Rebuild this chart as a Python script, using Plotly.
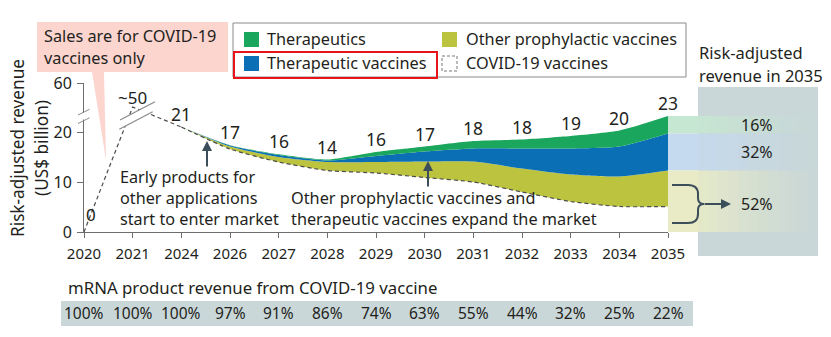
import numpy as np
import plotly.graph_objects as go

# ---------------- data ----------------
years = ["2020", "2021", "2024", "2026", "2027", "2028", "2029",
         "2030", "2031", "2032", "2033", "2034", "2035"]
total_labels = ["0", "~50", "21", "17", "16", "14", "16", "17", "18", "18", "19", "20", "23"]
covid = [0, 50, 21, 16.6, 14.0, 12.3, 11.8, 10.9, 10.0, 8.0, 6.1, 5.1, 5.1]
other_proph = [0, 0, 0, 0.5, 1.0, 1.7, 2.2, 3.2, 4.1, 4.7, 5.4, 6.0, 7.2]
ther_vacc = [0, 0, 0, 0.2, 0.4, 0.3, 1.2, 2.0, 2.6, 4.0, 5.2, 6.0, 7.4]
therapeutics = [0, 0, 0, 0.05, 0.15, 0.2, 0.8, 1.0, 1.5, 1.8, 2.5, 3.2, 3.5]
covid_share = ["100%", "100%", "100%", "97%", "91%", "86%", "74%",
               "63%", "55%", "44%", "32%", "25%", "22%"]
share_2035 = ["16%", "32%", "52%"]
y_tick_values = [0, 10, 20, 60]

# ---------------- styling ----------------
FONT = "Noto Sans"
TXT = "#231f20"
AX = "#6d6e71"
ARROW = "#3c4e5a"
GREEN = "#1aa65c"
BLUE = "#0a6fb5"
YELLOW = "#bcc43f"
GRAYBOX = "#c9d7d8"
PINK = "#fcd5cf"

W, H = 831, 337
L, R, T, B = 84, 668, 83, 232  # plot area in pixels


def px(x):
    return (x - L) / (R - L)


def py(y):
    return (B - y) / (B - T)


def brk(v):
    # broken axis: linear up to 21, compressed above
    return np.interp(v, [0, 21, 50, 60], [0, 21, 25, 29.8])


xi = np.arange(len(years))
cov = np.array(covid, dtype=float)
c0 = cov[2:]
c1 = c0 + np.array(other_proph[2:])
c2 = c1 + np.array(ther_vacc[2:])
c3 = c2 + np.array(therapeutics[2:])
xs = xi[2:]
tops = np.concatenate([[0, 0], c3])

fig = go.Figure()
spl = dict(shape="spline", smoothing=0.6)
fig.add_trace(go.Scatter(x=xs, y=c0, mode="lines", line=dict(width=0, **spl),
                         hoverinfo="skip", showlegend=False))
fig.add_trace(go.Scatter(x=xs, y=c1, mode="lines", fill="tonexty", fillcolor=YELLOW,
                         line=dict(width=0, color=YELLOW, **spl), name="Other prophylactic vaccines",
                         showlegend=False))
fig.add_trace(go.Scatter(x=xs, y=c2, mode="lines", fill="tonexty", fillcolor=BLUE,
                         line=dict(width=0, color=BLUE, **spl), name="Therapeutic vaccines",
                         showlegend=False))
fig.add_trace(go.Scatter(x=xs, y=c3, mode="lines", fill="tonexty", fillcolor=GREEN,
                         line=dict(width=0, color=GREEN, **spl), name="Therapeutics",
                         showlegend=False))
fig.add_trace(go.Scatter(x=xi[:3], y=brk(cov[:3]), mode="lines",
                         line=dict(color="#4d4d4f", width=1.2, dash="4px,3px"),
                         showlegend=False, hoverinfo="skip"))
fig.add_trace(go.Scatter(x=xs, y=brk(c0), mode="lines",
                         line=dict(color="#4d4d4f", width=1.2, dash="4px,3px", **spl),
                         showlegend=False, name="COVID-19 vaccines"))

shapes = []
ann = []


def rect(x0, y0, x1, y1, fill, line=None, lw=0, dash=None, layer="below", op=1.0):
    d = dict(type="rect", xref="paper", yref="paper", x0=px(x0), x1=px(x1),
             y0=py(y0), y1=py(y1), fillcolor=fill, opacity=op, layer=layer,
             line=dict(width=lw, color=line or "rgba(0,0,0,0)"))
    if dash:
        d["line"]["dash"] = dash
    shapes.append(d)


def seg(x0, y0, x1, y1, color, w=1.0, layer="above"):
    shapes.append(dict(type="line", xref="paper", yref="paper", x0=px(x0), y0=py(y0),
                       x1=px(x1), y1=py(y1), line=dict(color=color, width=w), layer=layer))


def path(pts_cmd, fill=None, color=None, w=0, layer="above"):
    shapes.append(dict(type="path", xref="paper", yref="paper", path=pts_cmd,
                       fillcolor=fill or "rgba(0,0,0,0)", layer=layer,
                       line=dict(color=color or "rgba(0,0,0,0)", width=w)))


def P(x, y):
    return f"{px(x):.5f},{py(y):.5f}"


def text(x, y, s, size=15, xanchor="left", color=TXT, angle=0, xref="paper", yref="paper"):
    ann.append(dict(x=x, y=y, xref=xref, yref=yref, text=s, showarrow=False,
                    xanchor=xanchor, yanchor="middle", textangle=angle,
                    font=dict(family=FONT, size=size, color=color)))


def arrow(hx, hy, tx, ty):
    ann.append(dict(x=px(hx), y=py(hy), xref="paper", yref="paper",
                    ax=tx - hx, ay=ty - hy, showarrow=True, arrowhead=2, arrowsize=1,
                    arrowwidth=2, arrowcolor=ARROW, text=""))


# --- callout (pink) ---
rect(37, 22, 228, 72, PINK)
path(f"M{P(92, 72)} L{P(104, 72)} L{P(106, 160)} Z", fill=PINK, layer="below")
text(px(42), py(36.5), "Sales are for COVID-19", 16.3)
text(px(42), py(58), "vaccines only", 16.3)

# --- legend ---
rect(233, 23, 686, 77, "rgba(0,0,0,0)", line="#8a8a8a", lw=1, layer="above")
rect(244, 32, 259, 47, GREEN, layer="above")
rect(244, 56, 259, 71, BLUE, layer="above")
rect(442, 32, 457, 47, YELLOW, layer="above")
rect(442, 56, 457, 71, "white", line="#777", lw=1, dash="3px,2px", layer="above")
text(px(265), py(39), "Therapeutics", 16.3)
text(px(265), py(63), "Therapeutic vaccines", 16.3)
text(px(464), py(39), "Other prophylactic vaccines", 16.3)
text(px(464), py(63), "COVID-19 vaccines", 16.3)
rect(234, 52, 437, 78, "rgba(0,0,0,0)", line="#e8141b", lw=2, layer="above")

# --- right panel ---
rect(698, 87, 818, 256, GRAYBOX)
band_cols = ["#c6e7d1", "#c5d9ef", "#e8ebc6"]
band_lims = [(c2[-1], c3[-1]), (c1[-1], c2[-1]), (0, c1[-1])]
for col, (lo, hi) in zip(band_cols, band_lims):
    shapes.append(dict(type="rect", xref="paper", yref="y", x0=px(R), x1=px(698),
                       y0=lo, y1=hi, fillcolor=col, line=dict(width=0), layer="below"))
    n = 12
    for k in range(n):
        xa = 698 + k * 10
        shapes.append(dict(type="rect", xref="paper", yref="y", x0=px(xa), x1=px(xa + 10),
                           y0=lo, y1=hi, fillcolor=col, opacity=0.85 * (1 - k / n) ** 1.3,
                           line=dict(width=0), layer="below"))
text(px(697), py(52), "Risk-adjusted", 16.5)
text(px(697), py(75), "revenue in 2035", 16.5)
text(px(757), (c2[-1] + c3[-1]) / 2, share_2035[0], 16, "center", yref="y")
text(px(757), (c1[-1] + c2[-1]) / 2, share_2035[1], 16, "center", yref="y")
text(px(757), py(204), share_2035[2], 16, "center")
# brace + arrow
path(f"M{P(672, 185)} L{P(688, 185)} Q{P(698, 185)} {P(698, 194)} L{P(698, 198)} "
     f"Q{P(698, 204)} {P(704, 204)}", color=ARROW, w=2)
path(f"M{P(672, 223)} L{P(688, 223)} Q{P(698, 223)} {P(698, 214)} L{P(698, 210)} "
     f"Q{P(698, 204)} {P(704, 204)}", color=ARROW, w=2)
arrow(731, 204, 703, 204)

# --- axis breaks ---
rect(81, 112.5, 87, 119.5, "white", layer="above")
seg(78, 115, 89.5, 109.3, "#8a8a8a", 1)
seg(78, 123.5, 89.5, 117.8, "#8a8a8a", 1)
path(f"M{P(119.3, 129.3)} L{P(152.7, 111.7)} L{P(155, 101.7)} L{P(120, 120)} Z",
     fill="white", layer="above")
seg(120, 120, 155, 101.7, "#8a8a8a", 1.2)
seg(119.3, 129.3, 152.7, 111.7, "#8a8a8a", 1.2)

# --- value labels ---
text(0, 0, total_labels[0], 17, "center", xref="x", yref="y")
ann[-1].update(xshift=7, yshift=18)
text(1, float(brk(covid[1])), total_labels[1], 17, "center", xref="x", yref="y")
ann[-1].update(yshift=10)
for i in range(2, len(years)):
    text(int(xi[i]), float(tops[i]), total_labels[i], 17.5, "center", xref="x", yref="y")
    ann[-1].update(yshift=13)

# --- annotations with arrows ---
for j, s in enumerate(["Early products for", "other applications", "start to enter market"]):
    text(px(118), py(177 + 21 * j), s, 16.2)
for j, s in enumerate(["Other prophylactic vaccines and", "therapeutic vaccines expand the market"]):
    text(px(289), py(198 + 21 * j), s, 16.3)
arrow(207, 141, 207, 168)
arrow(428, 161, 428, 188)

# --- y-axis title ---
text(px(17), py(148), "Risk-adjusted revenue", 17.2, "center", angle=-90)
text(px(41), py(148), "(US$ billion)", 17.2, "center", angle=-90)

# --- bottom table ---
text(px(66), py(287), "mRNA product revenue from COVID-19 vaccine", 16.8)
rect(61, 301, 693, 326, GRAYBOX)
for i, s in enumerate(covid_share):
    text(int(xi[i]), py(313), s, 15.5, "center", xref="x")

fig.update_layout(
    width=W, height=H,
    margin=dict(l=L, r=W - R, t=T, b=H - B, pad=0),
    paper_bgcolor="white", plot_bgcolor="rgba(0,0,0,0)",
    shapes=shapes, annotations=ann, showlegend=False,
    font=dict(family=FONT, color=TXT),
    xaxis=dict(range=[0, 12], tickmode="array", tickvals=xi, ticktext=years,
               showline=True, linecolor=AX, linewidth=1, ticks="outside", ticklen=5,
               tickcolor=AX, tickfont=dict(size=15, family=FONT, color=TXT),
               ticklabelstandoff=3,
               showgrid=False, zeroline=False, fixedrange=True),
    yaxis=dict(range=[0, 29.8], tickmode="array", tickvals=brk(y_tick_values),
               ticktext=[str(v) for v in y_tick_values],
               showline=True, linecolor=AX, linewidth=1, ticks="outside", ticklen=6,
               tickcolor=AX, tickfont=dict(size=16, family=FONT, color=TXT),
               ticklabelstandoff=2,
               showgrid=False, zeroline=False, fixedrange=True),
)
fig.write_html("out.html")
